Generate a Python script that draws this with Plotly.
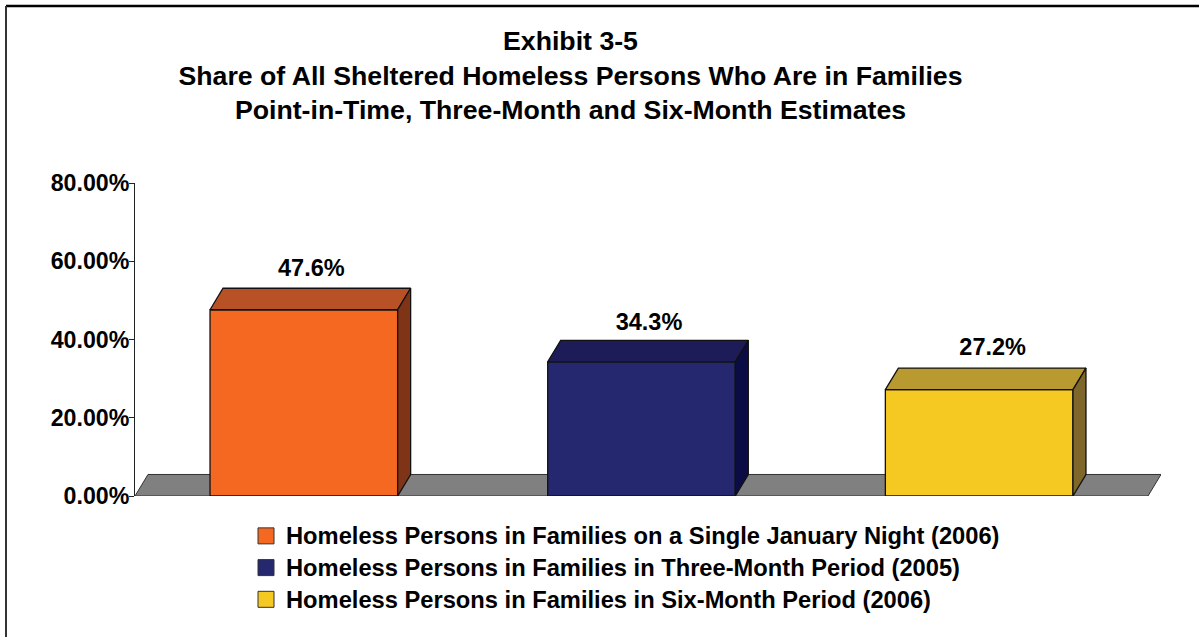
import plotly.graph_objects as go

# --- data ---
categories = [
    "Homeless Persons in Families on a Single January Night (2006)",
    "Homeless Persons in Families in Three-Month Period (2005)",
    "Homeless Persons in Families in Six-Month Period (2006)",
]
values = [47.6, 34.3, 27.2]
value_labels = ["47.6%", "34.3%", "27.2%"]
y_ticks = [0, 20, 40, 60, 80]
y_tick_labels = ["0.00%", "20.00%", "40.00%", "60.00%", "80.00%"]
title_lines = [
    "Exhibit 3-5",
    "Share of All Sheltered Homeless Persons Who Are in Families",
    "Point-in-Time, Three-Month and Six-Month Estimates",
]
front_colors = ["#F56822", "#25286E", "#F6C822"]
top_colors = ["#B85226", "#1E1C58", "#B89A30"]
side_colors = ["#7F3418", "#0C0C45", "#7F672B"]
label_shift_px = [(1, 6), (1, 4), (7, 7)]

# --- layout constants ---
W, H = 1199, 637
L, R, T, B = 135, 1161, 183, 496
BAR_W = 0.5556
DX = 0.0385
DY = 5.5
FONT = "Liberation Sans"
LINE = "#111111"
TEXT_SIZE = 23.5
TICK_SIZE = 23.2
LEGEND_TEXT_SIZE = 23.7
LEGEND_ROW_SIZE = 22.1
xmin, xmax = -0.5, 2.5 + DX
PX_PER_X = (R - L) / (xmax - xmin)
PX_PER_Y = (B - T) / 80

fig = go.Figure()

for i, (name, v) in enumerate(zip(categories, values)):
    x0, x1 = i - BAR_W / 2, i + BAR_W / 2
    fig.add_trace(go.Bar(
        x=[i], y=[v], width=BAR_W, showlegend=False, legendgroup=name, name=name,
        marker=dict(color=front_colors[i], line=dict(color=LINE, width=1.3)),
    ))
    fig.add_trace(go.Scatter(
        x=[x0, x0 + DX, x1 + DX, x1, x0], y=[v, v + DY, v + DY, v, v],
        mode="lines", fill="toself", fillcolor=top_colors[i],
        line=dict(color=LINE, width=1.3), showlegend=False, hoverinfo="skip",
    ))
    fig.add_trace(go.Scatter(
        x=[x1, x1 + DX, x1 + DX, x1, x1], y=[0, DY, v + DY, v, 0],
        mode="lines", fill="toself", fillcolor=side_colors[i],
        line=dict(color=LINE, width=1.3), showlegend=False, hoverinfo="skip",
    ))
    sx, sy = label_shift_px[i]
    fig.add_trace(go.Scatter(
        x=[i + DX / 2 + sx / PX_PER_X], y=[v + DY + sy / PX_PER_Y], mode="text", text=[value_labels[i]],
        textposition="top center", showlegend=False, hoverinfo="skip", cliponaxis=False,
        textfont=dict(family=FONT, size=TEXT_SIZE, color="black", weight=700),
    ))
    # legend entry
    fig.add_trace(go.Scatter(
        x=[None], y=[None], mode="markers", legendgroup=name,
        name=f'<span style="font-size:{LEGEND_TEXT_SIZE}px">{name}</span>',
        marker=dict(symbol="square", size=16, color=front_colors[i],
                    line=dict(color="#333333", width=1)),
    ))

# floor
fig.add_shape(type="path", xref="x", yref="y", layer="below",
              path=f"M {xmin} 0 L {xmin + DX} {DY} L {xmax} {DY} L {xmax - DX} 0 Z",
              fillcolor="#808080", line=dict(color="#333333", width=1))

# outer frame (open at right and bottom)
px = lambda p: (p - L) / (R - L)
py = lambda p: (B - p) / (B - T)
fig.add_shape(type="line", xref="paper", yref="paper", x0=px(6), x1=px(W + 5), y0=py(6), y1=py(6),
              line=dict(color="black", width=2.5))
fig.add_shape(type="line", xref="paper", yref="paper", x0=px(6), x1=px(6), y0=py(6), y1=py(H + 5),
              line=dict(color="#333333", width=2))

fig.update_layout(
    width=W, height=H, autosize=False,
    margin=dict(l=L, r=W - R, t=T, b=H - B, pad=0, autoexpand=False),
    paper_bgcolor="white", plot_bgcolor="rgba(0,0,0,0)",
    barmode="overlay",
    font=dict(family=FONT, color="black", size=TEXT_SIZE, weight=700),
    title=dict(
        text="<br>".join(title_lines), x=570.5 / W, xanchor="center", y=1 - 50 / H, yanchor="top",
        font=dict(family=FONT, size=26.7, color="black", weight=700),
    ),
    xaxis=dict(range=[xmin, xmax], visible=False, fixedrange=True),
    yaxis=dict(
        range=[0, 80], tickvals=y_ticks, ticktext=y_tick_labels, ticks="outside", ticklen=5,
        tickcolor="#222222", tickwidth=1, showgrid=False, zeroline=False, showline=True,
        linecolor="#222222", linewidth=1, anchor="x", fixedrange=True,
        ticklabelstandoff=-5,
        tickfont=dict(family=FONT, size=TICK_SIZE, color="black", weight=700),
    ),
    legend=dict(
        xref="container", yref="container", x=246 / W, xanchor="left", y=1 - 515 / H, yanchor="top",
        bgcolor="rgba(0,0,0,0)", tracegroupgap=0, itemclick=False, itemdoubleclick=False,
        font=dict(family=FONT, size=LEGEND_ROW_SIZE, color="black", weight=700),
    ),
)

fig.write_html("out.html", config={"displayModeBar": False},
               post_script="document.body.style.margin='0';")
